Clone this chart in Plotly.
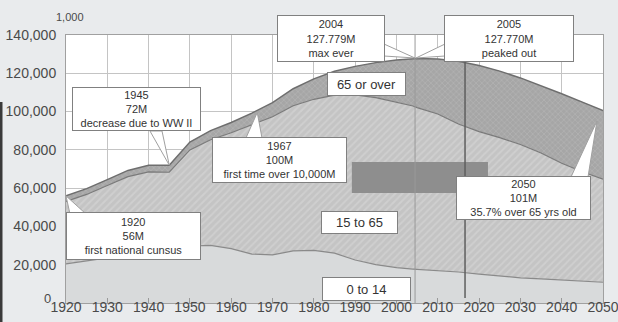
import plotly.graph_objects as go

# Population of Japan by age group, in thousands (projection after 2005)
years = [1920, 1925, 1930, 1935, 1940, 1945, 1950, 1955, 1960, 1965, 1970, 1975,
         1980, 1985, 1990, 1995, 2000, 2004, 2005, 2010, 2015, 2020, 2025, 2030,
         2035, 2040, 2045, 2050]
age_0_14 = [20416, 21924, 23579, 25545, 26369, 26477, 29786, 30123, 28434, 25529,
            25153, 27221, 27507, 26033, 22486, 20014, 18472, 17734, 17585, 17074,
            16197, 15095, 13960, 13161, 12623, 12114, 11465, 10842]
age_15_64 = [32606, 34792, 37807, 40484, 42110, 41821, 50174, 55168, 60470, 67444,
             72119, 75854, 78906, 82548, 86230, 87295, 86449, 85169, 84513, 81664,
             77297, 74453, 72450, 69649, 65757, 60892, 57099, 53888]
age_65_over = [2941, 3021, 3064, 3225, 3454, 3700, 4155, 4786, 5398, 6236, 7393,
               8865, 10647, 12468, 14895, 18261, 22005, 24876, 25672, 28735, 32772,
               34559, 34726, 34770, 35222, 36332, 36396, 35863]

x_ticks = list(range(1920, 2051, 10))
y_ticks = list(range(20000, 140001, 20000))
y_tick_text = [f"{v:,}" for v in y_ticks]

# cumulative stacks for the three bands
stack_young = age_0_14
stack_working = [a + b for a, b in zip(age_0_14, age_15_64)]
stack_total = [a + b + c for a, b, c in zip(age_0_14, age_15_64, age_65_over)]

FONT = "Liberation Sans, Arial, sans-serif"
TEXT = "#4a4a4a"

fig = go.Figure()
fig.add_trace(go.Scatter(
    x=years, y=stack_young, mode="lines", name="0 to 14",
    line=dict(color="#8a8a8a", width=1.2),
    fill="tozeroy", fillcolor="#d8dadb", hoverinfo="skip"))
fig.add_trace(go.Scatter(
    x=years, y=stack_working, mode="lines", name="15 to 65",
    line=dict(color="#7a7a7a", width=1.2),
    fill="tonexty", fillcolor="#c6c6c6",
    fillpattern=dict(shape="/", bgcolor="#c4c4c4", fgcolor="#dadada",
                     size=5, solidity=0.35),
    hoverinfo="skip"))
fig.add_trace(go.Scatter(
    x=years, y=stack_total, mode="lines", name="65 or over",
    line=dict(color="#6e6e6e", width=1.5),
    fill="tonexty", fillcolor="#a8a8a8",
    fillpattern=dict(shape="x", bgcolor="#a6a6a6", fgcolor="#c0c0c0",
                     size=4, solidity=0.3),
    hoverinfo="skip"))

# callout tails: (tip, base point 1, base point 2)
tails = [
    ((1920.0, 55963), (1920.97, 46490), (1924.84, 46490)),
    ((1945.0, 71998), (1940.33, 89850), (1943.24, 89850)),
    ((1966.3, 99500), (1963.57, 86200), (1967.45, 86200)),
    ((2048.54, 95075), (2042.25, 65820), (2046.37, 65820)),
    ((2004.48, 127985), (1996.98, 135300), (1996.98, 129030)),
    ((2004.72, 127985), (2011.75, 135300), (2011.75, 129030)),
]
shapes = []
for tip, b1, b2 in tails:
    shapes.append(dict(
        type="path", xref="x", yref="y",
        path=f"M {b1[0]},{b1[1]} L {tip[0]},{tip[1]} L {b2[0]},{b2[1]} Z",
        fillcolor="white", line=dict(color="#a0a0a0", width=1), layer="above"))

# grey block and marker lines
shapes.append(dict(type="rect", xref="x", yref="y", x0=1989.2, x1=2022.15,
                   y0=57450, y1=73650, fillcolor="#8e8e8e", line=dict(width=0),
                   layer="above"))
shapes.append(dict(type="line", xref="x", yref="y", x0=2004.5, x1=2004.5,
                   y0=0, y1=140000, line=dict(color="#9a9a9a", width=1),
                   layer="above"))
shapes.append(dict(type="line", xref="x", yref="y", x0=2016.6, x1=2016.6,
                   y0=2600, y1=140000, line=dict(color="#5f5f5f", width=1.5),
                   layer="above"))
# dark frame edge on the left of the page
shapes.append(dict(type="line", xref="paper", yref="paper",
                   x0=-65 / 537, x1=-65 / 537, y0=-19 / 268, y1=0.75,
                   line=dict(color="#3a3a3a", width=3)))

# text boxes: (text, x, y, width, height, font size)
boxes = [
    ("1945<br>72M<br>decrease due to WW II", 1937.1, 101100, 127, 42, 11),
    ("2004<br>127.779M<br>max ever", 1984.15, 138200, 106, 45, 11),
    ("2005<br>127.770M<br>peaked out", 2027.25, 138200, 128, 45, 11),
    ("65 or over", 1992.75, 114400, 77, 22, 13),
    ("1967<br>100M<br>first time over 10,000M", 1971.7, 74700, 133, 44, 11),
    ("2050<br>101M<br>35.7% over 65 yrs old", 2030.75, 54850, 133, 42, 11),
    ("1920<br>56M<br>first national cunsus", 1936.35, 34750, 133, 46, 11),
    ("15 to 65", 1991.05, 42050, 75, 21, 13),
    ("0 to 14", 1992.75, 7300, 87, 22, 13),
]
annotations = []
for text, x, y, w, h, size in boxes:
    annotations.append(dict(
        text=text, x=x, y=y, xref="x", yref="y", showarrow=False,
        xanchor="center", yanchor="middle", width=w, height=h,
        align="center", valign="middle",
        bgcolor="white", bordercolor="#808080", borderwidth=1, borderpad=0,
        font=dict(family=FONT, size=size, color="#333333")))
# unit of the value axis, above the top tick label
annotations.append(dict(
    text="1,000", x=0.0075, y=1.067, xref="paper", yref="paper", showarrow=False,
    xanchor="center", yanchor="middle",
    font=dict(family=FONT, size=11, color=TEXT)))
# zero label of the value axis, sitting just above the first year label
annotations.append(dict(
    text="0", x=1920, y=0, xref="x", yref="y", showarrow=False,
    xanchor="right", yanchor="bottom", xshift=-13, yshift=-5,
    font=dict(family=FONT, size=13, color=TEXT)))

fig.update_layout(
    width=618, height=322,
    margin=dict(l=66, r=15, t=35, b=19),
    paper_bgcolor="#e9ebed", plot_bgcolor="white",
    showlegend=False,
    shapes=shapes, annotations=annotations,
    font=dict(family=FONT, size=14, color=TEXT),
)
fig.update_xaxes(
    range=[1920, 2050], tickvals=x_ticks, automargin=False,
    showgrid=True, gridcolor="#c4c4c4", gridwidth=1,
    ticks="inside", ticklen=5, tickcolor="#999999",
    showline=True, linecolor="#a0a0a0", mirror=True,
    zeroline=False, tickfont=dict(size=14, color=TEXT),
    ticklabelstandoff=-9, ticklabeloverflow="allow")
fig.update_yaxes(
    range=[0, 140000], tickvals=y_ticks, ticktext=y_tick_text, automargin=False,
    showgrid=True, gridcolor="#c4c4c4", gridwidth=1,
    showline=True, linecolor="#a0a0a0", mirror=True,
    zeroline=False, tickfont=dict(size=14, color=TEXT), ticklabelstandoff=6,
    ticklabeloverflow="allow")

fig.write_html("out.html")
